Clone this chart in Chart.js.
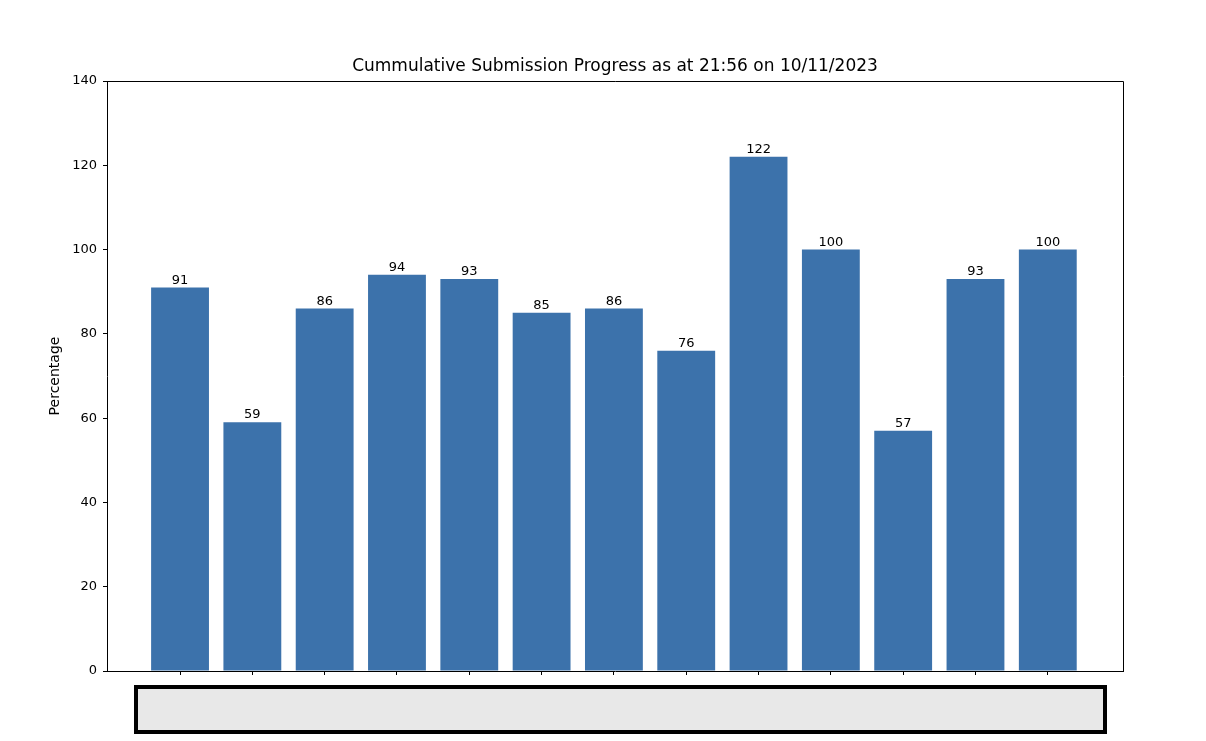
<!DOCTYPE html>
<html>
<head>
<meta charset="utf-8">
<script src="https://cdn.jsdelivr.net/npm/chart.js@4/dist/chart.umd.min.js"></script>
<style>
    html, body { margin: 0; padding: 0; background: #fff; }
    #wrap { position: relative; width: 1206px; height: 741px; }
    #redact {
        position: absolute; left: 134px; top: 685px; width: 973px; height: 49px;
        box-sizing: border-box; border: 4px solid #000; background: #e8e8e8;
    }
</style>
</head>
<body>
<div id="wrap">
    <canvas id="chart" width="1206" height="741"></canvas>
    <div id="redact"></div>
</div>
<script>
"use strict";
const TITLE = 'Cummulative Submission Progress as at 21:56 on 10/11/2023';
// category names are hidden behind the grey box in the source picture
const categories = ['', '', '', '', '', '', '', '', '', '', '', '', ''];
const percentages = [91, 59, 86, 94, 93, 85, 86, 76, 122, 100, 57, 93, 100];
const yTicks = [0, 20, 40, 60, 80, 100, 120, 140];

const FONT = "'DejaVu Sans', sans-serif";

// title, top/right spines and value labels, like matplotlib would draw them
const decorations = {
    id: 'decorations',
    afterDraw(chart) {
        const {ctx, chartArea: a} = chart;
        ctx.save();
        ctx.strokeStyle = '#000';
        ctx.lineWidth = 1;
        ctx.beginPath();
        ctx.moveTo(a.left, a.top + 0.5);
        ctx.lineTo(a.right + 0.5, a.top + 0.5);
        ctx.lineTo(a.right + 0.5, a.bottom);
        ctx.stroke();

        ctx.fillStyle = '#000';
        ctx.font = '17px ' + FONT;
        ctx.textAlign = 'center';
        ctx.textBaseline = 'alphabetic';
        ctx.fillText(TITLE, (a.left + a.right) / 2, a.top - 10);

        ctx.font = '13px ' + FONT;
        const meta = chart.getDatasetMeta(0);
        meta.data.forEach((bar, i) => {
            ctx.fillText(String(percentages[i]), bar.x, bar.y - 4);
        });
        ctx.restore();
    }
};

const ctx = document.getElementById('chart');
new Chart(ctx, {
    type: 'bar',
    data: {
        datasets: [{
            label: 'Percentage',
            data: percentages.map((v, i) => ({x: i, y: v})),
            backgroundColor: '#3c72ab',
            borderWidth: 0,
            barPercentage: 0.8,
            categoryPercentage: 1.0,
        }]
    },
    options: {
        responsive: false,
        animation: false,
        layout: {padding: {left: 0, right: 83, top: 81, bottom: 0}},
        plugins: {legend: {display: false}, tooltip: {enabled: false}},
        scales: {
            x: {
                type: 'linear',
                offset: false,
                min: -1.01,
                max: 13.04,
                afterBuildTicks(scale) {
                    scale.ticks = categories.map((c, i) => ({value: i}));
                },
                afterFit(scale) { scale.height = 70; },
                ticks: {
                    callback: (v) => categories[v] || '',
                    font: {family: FONT, size: 13}, color: '#000',
                },
                grid: {drawOnChartArea: false, tickLength: 4, color: '#000', offset: false},
                border: {display: true, color: '#000', width: 1},
            },
            y: {
                min: 0,
                max: 140,
                afterBuildTicks(scale) {
                    scale.ticks = yTicks.map(v => ({value: v}));
                },
                afterFit(scale) { scale.width = 107; },
                ticks: {
                    font: {family: FONT, size: 13}, color: '#000', padding: 6,
                },
                grid: {drawOnChartArea: false, tickLength: 4, color: '#000'},
                border: {display: true, color: '#000', width: 1},
                title: {
                    display: true, text: 'Percentage', color: '#000',
                    font: {family: FONT, size: 14},
                    padding: {top: 47, bottom: 0},
                },
            }
        }
    },
    plugins: [decorations]
});
</script>
</body>
</html>
